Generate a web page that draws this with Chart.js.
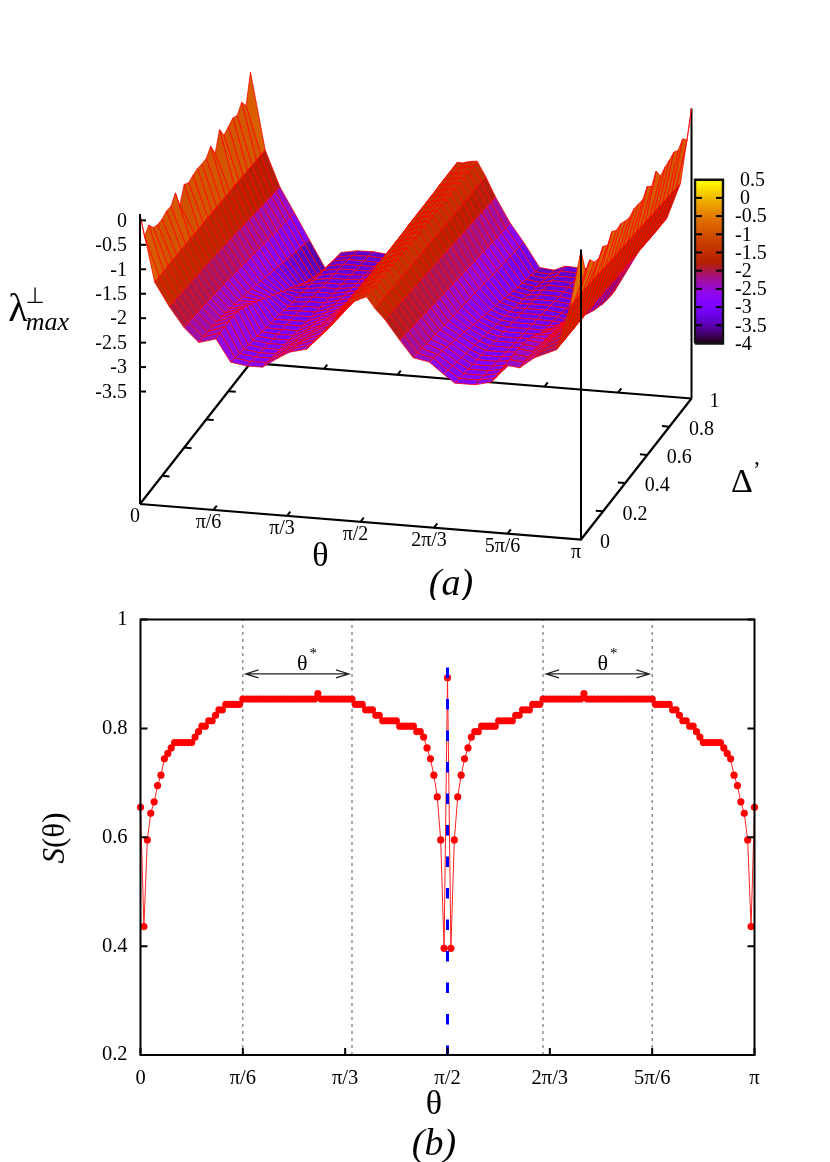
<!DOCTYPE html>
<html>
<head>
<meta charset="utf-8">
<script src="https://cdn.jsdelivr.net/npm/chart.js@4"></script>
<style>
  html, body { margin: 0; padding: 0; background: #fff; }
  canvas { position: absolute; left: 0; display: block; }
  #surface { top: 0; }
  #order { top: 600px; }
</style>
</head>
<body>
<canvas id="surface" width="830" height="600"></canvas>
<canvas id="order" width="830" height="562"></canvas>
<script>
// Panel (a): lambda by theta column (degrees) and delta row
const thetaNodes = [0, 6, 12, 18, 24, 31, 37, 43.5, 50, 56, 61, 68, 75.5, 80, 82, 84.5, 86.5, 88.5, 90.5, 92.5,
  96, 100, 106, 111.5, 118, 124, 128.5, 136.8, 143.3, 149, 155, 161, 170, 175.5, 180];
const deltaNodes = [0, 0.04, 0.08, 0.12, 0.16, 0.2, 0.24, 0.28, 0.32, 0.36, 0.4, 0.44, 0.48,
  0.52, 0.56, 0.6, 0.64, 0.68, 0.72, 0.76, 0.8, 0.84, 0.88, 0.92, 0.96, 1];
const lambdaColumns = [
  [0.12,-0.44,-0.33,-0.49,-0.55,-0.55,-0.5,-0.52,-0.36,-0.73,-0.42,-0.5,-0.46,-0.44,-0.46,-0.46,-0.33,-0.59,-0.22,-0.45,-0.39,-0.33,-0.39,-0.24,-0.42,0.15],
  [-1.24,-1.25,-1.25,-1.26,-1.26,-1.27,-1.27,-1.28,-1.28,-1.29,-1.3,-1.3,-1.31,-1.32,-1.32,-1.33,-1.34,-1.35,-1.35,-1.36,-1.37,-1.38,-1.39,-1.4,-1.41,-1.42],
  [-1.72,-1.73,-1.74,-1.75,-1.76,-1.78,-1.79,-1.81,-1.82,-1.84,-1.86,-1.87,-1.89,-1.91,-1.93,-1.95,-1.97,-1.99,-2.01,-2.03,-2.05,-2.07,-2.09,-2.11,-2.13,-2.15],
  [-2.12,-2.13,-2.14,-2.16,-2.17,-2.19,-2.21,-2.23,-2.25,-2.27,-2.29,-2.32,-2.34,-2.36,-2.39,-2.41,-2.44,-2.46,-2.49,-2.51,-2.53,-2.56,-2.58,-2.6,-2.63,-2.66],
  [-2.4,-2.4,-2.41,-2.42,-2.44,-2.46,-2.49,-2.52,-2.55,-2.58,-2.62,-2.65,-2.69,-2.72,-2.76,-2.8,-2.84,-2.88,-2.92,-2.96,-3,-3.04,-3.08,-3.11,-3.15,-3.18],
  [-2.3,-2.29,-2.28,-2.28,-2.29,-2.31,-2.36,-2.43,-2.5,-2.58,-2.66,-2.74,-2.82,-2.9,-2.98,-3.06,-3.14,-3.22,-3.3,-3.38,-3.46,-3.53,-3.6,-3.66,-3.72,-3.78],
  [-2.75,-2.78,-2.8,-2.83,-2.86,-2.88,-2.91,-2.94,-2.97,-3,-3.03,-3.05,-3.08,-3.11,-3.14,-3.16,-3.18,-3.21,-3.23,-3.26,-3.28,-3.3,-3.32,-3.34,-3.37,-3.39],
  [-2.8,-2.83,-2.85,-2.88,-2.9,-2.92,-2.94,-2.96,-2.98,-3,-3.02,-3.04,-3.06,-3.08,-3.1,-3.12,-3.14,-3.16,-3.18,-3.2,-3.22,-3.24,-3.26,-3.28,-3.31,-3.33],
  [-2.8,-2.82,-2.85,-2.87,-2.9,-2.92,-2.94,-2.96,-2.98,-3,-3.02,-3.04,-3.06,-3.08,-3.1,-3.12,-3.14,-3.16,-3.18,-3.2,-3.22,-3.24,-3.26,-3.28,-3.3,-3.32],
  [-2.6,-2.63,-2.66,-2.69,-2.72,-2.75,-2.78,-2.81,-2.84,-2.87,-2.9,-2.93,-2.96,-2.99,-3.02,-3.05,-3.08,-3.11,-3.14,-3.17,-3.2,-3.23,-3.26,-3.29,-3.32,-3.35],
  [-2.45,-2.49,-2.52,-2.56,-2.6,-2.63,-2.67,-2.71,-2.74,-2.78,-2.82,-2.85,-2.89,-2.93,-2.96,-3,-3.04,-3.07,-3.11,-3.15,-3.18,-3.22,-3.26,-3.3,-3.33,-3.37],
  [-2.36,-2.38,-2.4,-2.42,-2.44,-2.46,-2.48,-2.5,-2.52,-2.54,-2.56,-2.58,-2.6,-2.62,-2.64,-2.66,-2.68,-2.7,-2.72,-2.74,-2.76,-2.78,-2.81,-2.83,-2.85,-2.88],
  [-1.98,-2,-2.02,-2.04,-2.06,-2.08,-2.1,-2.12,-2.14,-2.16,-2.18,-2.2,-2.22,-2.24,-2.26,-2.28,-2.3,-2.33,-2.35,-2.37,-2.39,-2.41,-2.43,-2.45,-2.48,-2.51],
  [-1.65,-1.66,-1.67,-1.69,-1.7,-1.72,-1.73,-1.74,-1.76,-1.77,-1.79,-1.8,-1.81,-1.83,-1.84,-1.86,-1.87,-1.89,-1.9,-1.91,-1.93,-1.94,-1.96,-1.97,-1.99,-2],
  [-1.5,-1.5,-1.51,-1.51,-1.52,-1.52,-1.53,-1.54,-1.54,-1.55,-1.55,-1.56,-1.57,-1.57,-1.58,-1.58,-1.59,-1.6,-1.6,-1.61,-1.61,-1.62,-1.63,-1.63,-1.64,-1.65],
  [-1.38,-1.38,-1.38,-1.38,-1.38,-1.38,-1.38,-1.37,-1.37,-1.37,-1.37,-1.37,-1.37,-1.37,-1.36,-1.36,-1.36,-1.36,-1.36,-1.36,-1.36,-1.35,-1.35,-1.35,-1.35,-1.35],
  [-1.33,-1.33,-1.33,-1.33,-1.33,-1.33,-1.34,-1.34,-1.34,-1.34,-1.34,-1.34,-1.34,-1.35,-1.35,-1.35,-1.35,-1.35,-1.35,-1.35,-1.35,-1.35,-1.35,-1.36,-1.36,-1.36],
  [-1.28,-1.28,-1.29,-1.29,-1.29,-1.29,-1.3,-1.3,-1.3,-1.3,-1.3,-1.31,-1.31,-1.31,-1.31,-1.31,-1.32,-1.32,-1.32,-1.32,-1.32,-1.32,-1.33,-1.33,-1.33,-1.33],
  [-1.23,-1.23,-1.24,-1.24,-1.25,-1.25,-1.25,-1.26,-1.26,-1.26,-1.27,-1.27,-1.27,-1.28,-1.28,-1.28,-1.29,-1.29,-1.29,-1.3,-1.3,-1.3,-1.3,-1.31,-1.31,-1.31],
  [-1.19,-1.2,-1.2,-1.21,-1.21,-1.22,-1.22,-1.23,-1.23,-1.24,-1.24,-1.25,-1.25,-1.25,-1.26,-1.26,-1.27,-1.27,-1.27,-1.28,-1.28,-1.28,-1.29,-1.29,-1.3,-1.3],
  [-1.42,-1.43,-1.43,-1.44,-1.45,-1.46,-1.46,-1.47,-1.48,-1.48,-1.49,-1.5,-1.51,-1.51,-1.52,-1.53,-1.53,-1.54,-1.55,-1.56,-1.56,-1.57,-1.58,-1.58,-1.59,-1.6],
  [-1.63,-1.64,-1.66,-1.67,-1.69,-1.7,-1.72,-1.73,-1.75,-1.76,-1.78,-1.79,-1.81,-1.82,-1.84,-1.85,-1.87,-1.88,-1.9,-1.91,-1.93,-1.94,-1.96,-1.97,-1.99,-2],
  [-2.02,-2.04,-2.06,-2.08,-2.1,-2.12,-2.14,-2.16,-2.18,-2.2,-2.22,-2.24,-2.26,-2.28,-2.3,-2.32,-2.34,-2.36,-2.38,-2.4,-2.42,-2.44,-2.46,-2.48,-2.5,-2.51],
  [-2.36,-2.38,-2.4,-2.42,-2.44,-2.46,-2.48,-2.5,-2.53,-2.55,-2.57,-2.59,-2.61,-2.63,-2.65,-2.67,-2.69,-2.71,-2.74,-2.76,-2.78,-2.8,-2.82,-2.84,-2.86,-2.88],
  [-2.42,-2.46,-2.5,-2.54,-2.58,-2.62,-2.66,-2.69,-2.73,-2.77,-2.81,-2.85,-2.89,-2.93,-2.97,-3,-3.04,-3.08,-3.12,-3.16,-3.2,-3.23,-3.27,-3.3,-3.34,-3.37],
  [-2.65,-2.68,-2.71,-2.74,-2.77,-2.8,-2.83,-2.86,-2.89,-2.92,-2.95,-2.98,-3.01,-3.04,-3.07,-3.1,-3.13,-3.16,-3.19,-3.22,-3.25,-3.28,-3.31,-3.34,-3.37,-3.4],
  [-2.81,-2.83,-2.85,-2.87,-2.89,-2.91,-2.93,-2.95,-2.97,-2.99,-3.01,-3.03,-3.05,-3.07,-3.09,-3.11,-3.13,-3.15,-3.17,-3.19,-3.21,-3.23,-3.25,-3.27,-3.29,-3.3],
  [-2.81,-2.83,-2.85,-2.87,-2.89,-2.91,-2.93,-2.95,-2.97,-2.99,-3.01,-3.03,-3.05,-3.07,-3.09,-3.11,-3.13,-3.15,-3.18,-3.2,-3.22,-3.24,-3.26,-3.28,-3.3,-3.32],
  [-2.73,-2.76,-2.78,-2.81,-2.84,-2.86,-2.89,-2.92,-2.94,-2.97,-3,-3.02,-3.05,-3.08,-3.1,-3.13,-3.16,-3.18,-3.21,-3.24,-3.26,-3.29,-3.32,-3.34,-3.37,-3.39],
  [-2.36,-2.36,-2.36,-2.37,-2.39,-2.42,-2.48,-2.55,-2.63,-2.71,-2.79,-2.87,-2.95,-3.03,-3.11,-3.19,-3.27,-3.34,-3.41,-3.48,-3.55,-3.6,-3.65,-3.68,-3.7,-3.7],
  [-2.39,-2.39,-2.4,-2.41,-2.43,-2.46,-2.49,-2.52,-2.55,-2.59,-2.62,-2.66,-2.7,-2.73,-2.77,-2.81,-2.85,-2.89,-2.93,-2.97,-3.01,-3.05,-3.08,-3.12,-3.15,-3.18],
  [-2.16,-2.17,-2.18,-2.19,-2.21,-2.23,-2.25,-2.27,-2.29,-2.31,-2.33,-2.35,-2.37,-2.39,-2.41,-2.44,-2.46,-2.48,-2.51,-2.53,-2.55,-2.57,-2.59,-2.61,-2.64,-2.66],
  [-1.96,-1.96,-1.97,-1.97,-1.98,-1.98,-1.99,-1.99,-2,-2,-2.01,-2.02,-2.03,-2.04,-2.05,-2.06,-2.07,-2.08,-2.09,-2.1,-2.11,-2.12,-2.13,-2.14,-2.14,-2.15],
  [-1.05,-1.06,-1.07,-1.08,-1.1,-1.11,-1.12,-1.14,-1.15,-1.17,-1.18,-1.2,-1.21,-1.23,-1.24,-1.26,-1.27,-1.29,-1.3,-1.32,-1.33,-1.35,-1.37,-1.38,-1.4,-1.42],
  [0.11,-0.42,-0.31,-0.47,-0.52,-0.38,-0.48,-0.31,-0.4,-0.38,-0.44,-0.48,-0.42,-0.44,-0.46,-0.31,-0.42,-0.23,-0.44,-0.38,-0.35,-0.3,-0.38,-0.26,-0.4,0.13]
];
const zTicks = [0, -0.5, -1, -1.5, -2, -2.5, -3, -3.5];
const thetaTicks3d = [0, 30, 60, 90, 120, 150, 180];
const deltaTicks = [0, 0.2, 0.4, 0.6, 0.8, 1];
const colorbarTicks = [0.5, 0, -0.5, -1, -1.5, -2, -2.5, -3, -3.5, -4];

// Panel (b): S(theta), one point per degree
const orderTheta = [...Array(181).keys()];
const orderValues = [
  0.655,0.436,0.595,0.644,0.665,0.695,0.714,0.744,0.754,0.764,
  0.774,0.774,0.774,0.774,0.774,0.774,0.784,0.794,0.804,0.804,
  0.814,0.814,0.824,0.834,0.834,0.844,0.844,0.844,0.844,0.844,
  0.854,0.854,0.854,0.854,0.854,0.854,0.854,0.854,0.854,0.854,
  0.854,0.854,0.854,0.854,0.854,0.854,0.854,0.854,0.854,0.854,
  0.854,0.854,0.864,0.854,0.854,0.854,0.854,0.854,0.854,0.854,
  0.854,0.854,0.854,0.844,0.844,0.844,0.834,0.834,0.834,0.824,
  0.824,0.814,0.814,0.814,0.814,0.814,0.804,0.804,0.804,0.804,
  0.804,0.794,0.794,0.784,0.764,0.744,0.714,0.674,0.595,0.396,
  0.893,
  0.396,0.595,0.674,0.714,0.744,0.764,0.784,0.794,0.794,0.804,
  0.804,0.804,0.804,0.804,0.814,0.814,0.814,0.814,0.814,0.824,
  0.824,0.834,0.834,0.834,0.844,0.844,0.844,0.854,0.854,0.854,
  0.854,0.854,0.854,0.854,0.854,0.854,0.854,0.854,0.854,0.864,
  0.854,0.854,0.854,0.854,0.854,0.854,0.854,0.854,0.854,0.854,
  0.854,0.854,0.854,0.854,0.854,0.854,0.854,0.854,0.854,0.854,
  0.844,0.844,0.844,0.844,0.844,0.834,0.834,0.824,0.814,0.814,
  0.804,0.804,0.794,0.784,0.774,0.774,0.774,0.774,0.774,0.774,
  0.764,0.754,0.744,0.714,0.695,0.665,0.644,0.595,0.436,0.655
];
const orderTicks = ['0', 'π/6', 'π/3', 'π/2', '2π/3', '5π/6', 'π'];
const guideTheta = [30, 62, 118, 150];
const arrowSpans = [[30.8, 61.1], [118.9, 149.2]];
const arrowLevel = 0.9;
const blueTheta = 90;
const blueRange = [0.912, 0.2];

const serif = '"Liberation Serif", serif';

// gnuplot rgbformulae 7,5,15 over the colorbar range
function palette(v) {
  const g = Math.min(1, Math.max(0, (v + 4) / 4.5));
  const r = Math.sqrt(g), gr = g * g * g, b = Math.max(0, Math.sin(2 * Math.PI * g));
  return `rgb(${Math.round(r * 255)},${Math.round(gr * 255)},${Math.round(b * 255)})`;
}

// oblique view of the box, result is in the chart's x/y scale units
function project(theta, delta, lambda) {
  const t = theta / 180;
  return {
    x: 140 + 441 * t + 110.5 * delta,
    y: 504 + 35.5 * t - 141 * delta - 48.9 * (lambda + 5.8)
  };
}
const floorLevel = -5.8, ceilingLevel = 0.13;

function polyline(points, color, width, extra) {
  return Object.assign({
    type: 'scatter', showLine: true, data: points, borderColor: color, borderWidth: width,
    pointRadius: 0, tension: 0, clip: false, fill: false
  }, extra || {});
}

const paint = [];

// back of the box goes under the surface
paint.push(polyline([project(0, 0, floorLevel), project(0, 1, floorLevel), project(180, 1, floorLevel)], '#000', 2.2));
thetaTicks3d.slice(1, -1).forEach(th => {
  paint.push(polyline([project(th, 1, floorLevel), project(th, 1.03, floorLevel)], '#000', 2));
});
deltaTicks.slice(1, -1).forEach(d => {
  paint.push(polyline([project(0, d, floorLevel), project(3, d, floorLevel)], '#000', 2));
});
paint.push(polyline([project(0, 0, floorLevel), project(180, 0, floorLevel), project(180, 1, floorLevel)], '#000', 2.2));
thetaTicks3d.slice(1, -1).forEach(th => {
  paint.push(polyline([project(th, 0, floorLevel), project(th, 0.03, floorLevel)], '#000', 2));
});
deltaTicks.slice(1, -1).forEach(d => {
  paint.push(polyline([project(180, d, floorLevel), project(177, d, floorLevel)], '#000', 2));
});
paint.push(polyline([project(180, 1, floorLevel), project(180, 1, ceilingLevel)], '#000', 2));

// surface cells, far to near
for (let k = 0; k < thetaNodes.length - 1; k++) {
  for (let i = deltaNodes.length - 2; i >= 0; i--) {
    const a = lambdaColumns[k][i], b = lambdaColumns[k + 1][i];
    const c = lambdaColumns[k + 1][i + 1], e = lambdaColumns[k][i + 1];
    const pts = [
      project(thetaNodes[k], deltaNodes[i], a),
      project(thetaNodes[k + 1], deltaNodes[i], b),
      project(thetaNodes[k + 1], deltaNodes[i + 1], c),
      project(thetaNodes[k], deltaNodes[i + 1], e),
      project(thetaNodes[k], deltaNodes[i], a)
    ];
    paint.push(polyline(pts, '#ff0000', 0.75, { backgroundColor: palette((a + b + c + e) / 4), cell: true }));
  }
}

// verticals in front of the surface
paint.push(polyline([project(0, 0, floorLevel), project(0, 0, ceilingLevel)], '#000', 2));
paint.push(polyline([project(180, 0, floorLevel), project(180, 0, ceilingLevel)], '#000', 2));
zTicks.forEach(v => {
  const p = project(0, 0, v);
  paint.push(polyline([p, { x: p.x + 6, y: p.y }], '#000', 2));
});

// colorbar
const cbLeft = 695, cbRight = 723, cbBottom = 343.5, cbScale = 36.4;
const cbY = v => cbBottom - (v + 4) * cbScale;
const cbLevels = [...Array(90).keys()].map(n => -4 + n * 0.05);
cbLevels.forEach(v => {
  const low = Math.min(cbBottom, cbY(v) + 1.5);
  paint.push(polyline([
    { x: cbLeft, y: low }, { x: cbRight, y: low },
    { x: cbRight, y: cbY(v + 0.05) }, { x: cbLeft, y: cbY(v + 0.05) }, { x: cbLeft, y: low }
  ], 'rgba(0,0,0,0)', 0, { backgroundColor: palette(v + 0.025), cell: true }));
});
colorbarTicks.slice(1, -1).forEach(v => {
  paint.push(polyline([{ x: cbLeft, y: cbY(v) }, { x: cbLeft + 7, y: cbY(v) }], '#000', 2));
  paint.push(polyline([{ x: cbRight - 7, y: cbY(v) }, { x: cbRight, y: cbY(v) }], '#000', 2));
});
paint.push(polyline([
  { x: cbLeft, y: cbY(-4) }, { x: cbRight, y: cbY(-4) }, { x: cbRight, y: cbY(0.5) },
  { x: cbLeft, y: cbY(0.5) }, { x: cbLeft, y: cbY(-4) }
], '#111', 2.4));

// Fill closed cells right before their outline goes on
const cellFill = {
  id: 'cellFill',
  beforeDatasetDraw(chart, args) {
    const ds = chart.data.datasets[args.index];
    if (!ds.cell) return;
    const ctx = chart.ctx;
    ctx.save();
    ctx.beginPath();
    args.meta.data.forEach((pt, n) => n ? ctx.lineTo(pt.x, pt.y) : ctx.moveTo(pt.x, pt.y));
    ctx.closePath();
    ctx.fillStyle = ds.backgroundColor;
    ctx.fill();
    ctx.restore();
  }
};

function put(ctx, text, x, y, font, align) {
  ctx.font = font;
  ctx.textAlign = align || 'center';
  ctx.textBaseline = 'middle';
  ctx.fillStyle = '#000';
  ctx.fillText(text, x, y);
}

const surfaceLabels = {
  id: 'surfaceLabels',
  afterDraw(chart) {
    const ctx = chart.ctx, sx = chart.scales.x, sy = chart.scales.y;
    const tickFont = '20px ' + serif;
    ctx.save();
    zTicks.forEach(v => {
      const p = project(0, 0, v);
      put(ctx, String(v), sx.getPixelForValue(p.x) - 13, sy.getPixelForValue(p.y) + 1, tickFont, 'right');
    });
    orderTicks.forEach((txt, n) => {
      const p = project(thetaTicks3d[n], 0, floorLevel);
      put(ctx, txt, sx.getPixelForValue(p.x) - 5, sy.getPixelForValue(p.y) + 13, tickFont);
    });
    deltaTicks.forEach(d => {
      const p = project(180, d, floorLevel);
      const gap = d === 0 ? 24 : d === 1 ? 23 : 32;
      put(ctx, String(d), sx.getPixelForValue(p.x) + gap, sy.getPixelForValue(p.y) + 3, tickFont);
    });
    colorbarTicks.forEach(v => {
      put(ctx, String(v), v < 0 ? 735 : 740, sy.getPixelForValue(cbY(v)) + 1, tickFont, 'left');
    });
    put(ctx, 'λ', 18, 310, '40px ' + serif);
    put(ctx, '⊥', 35, 297, '22px "DejaVu Sans", sans-serif');
    put(ctx, 'max', 47.5, 323, 'italic 26px ' + serif);
    put(ctx, 'θ', 320.5, 557, '34px ' + serif);
    put(ctx, 'Δ', 742, 483, '34px ' + serif);
    put(ctx, ',', 757, 458, '24px ' + serif);
    put(ctx, '(a)', 451, 585, 'italic 38px ' + serif);
    ctx.restore();
  }
};

new Chart(document.getElementById('surface'), {
  type: 'scatter',
  data: { datasets: paint.slice().reverse() },
  options: {
    responsive: false,
    animation: false,
    events: [],
    layout: { padding: 0 },
    plugins: { legend: { display: false }, tooltip: { enabled: false } },
    scales: {
      x: { type: 'linear', min: 0, max: 830, display: false },
      y: { type: 'linear', min: 0, max: 600, reverse: true, display: false }
    }
  },
  plugins: [cellFill, surfaceLabels]
});

// Frame, inward ticks and the theta* arrows of panel (b)
const orderDecor = {
  id: 'orderDecor',
  afterDatasetsDraw(chart) {
    const ctx = chart.ctx, sx = chart.scales.x, sy = chart.scales.y, area = chart.chartArea;
    ctx.save();
    ctx.strokeStyle = '#000';
    ctx.lineWidth = 2;
    ctx.strokeRect(area.left, area.top, area.right - area.left, area.bottom - area.top);
    ctx.beginPath();
    sx.ticks.forEach(t => {
      const x = sx.getPixelForValue(t.value);
      ctx.moveTo(x, area.bottom);
      ctx.lineTo(x, area.bottom - 7);
    });
    sy.ticks.forEach(t => {
      const y = sy.getPixelForValue(t.value);
      ctx.moveTo(area.left, y);
      ctx.lineTo(area.left + 7, y);
      ctx.moveTo(area.right, y);
      ctx.lineTo(area.right - 7, y);
    });
    ctx.stroke();

    ctx.strokeStyle = '#222';
    ctx.lineWidth = 1.2;
    const y = sy.getPixelForValue(arrowLevel);
    arrowSpans.forEach(span => {
      const x0 = sx.getPixelForValue(span[0]), x1 = sx.getPixelForValue(span[1]);
      ctx.beginPath();
      ctx.moveTo(x0 + 13, y - 4); ctx.lineTo(x0, y); ctx.lineTo(x0 + 13, y + 4);
      ctx.moveTo(x1 - 13, y - 4); ctx.lineTo(x1, y); ctx.lineTo(x1 - 13, y + 4);
      ctx.moveTo(x0, y); ctx.lineTo(x1, y);
      ctx.stroke();
      const mid = (x0 + x1) / 2;
      put(ctx, 'θ', mid + 5, y - 10, '22px ' + serif);
      put(ctx, '*', mid + 16, y - 20, '15px ' + serif);
    });

    put(ctx, 'θ', 434, 505, '34px ' + serif);
    put(ctx, '(b)', 434, 545, 'italic 38px ' + serif);
    ctx.translate(56, 238);
    ctx.rotate(-Math.PI / 2);
    ctx.font = 'italic 31px ' + serif;
    const sWidth = ctx.measureText('S').width;
    ctx.font = '31px ' + serif;
    const restWidth = ctx.measureText('(θ)').width;
    const startX = -(sWidth + restWidth) / 2;
    put(ctx, 'S', startX, 0, 'italic 31px ' + serif, 'left');
    put(ctx, '(θ)', startX + sWidth, 0, '31px ' + serif, 'left');
    ctx.restore();
  }
};

const tickFontB = { family: '"Liberation Serif"', size: 20.5 };

new Chart(document.getElementById('order'), {
  type: 'scatter',
  data: {
    datasets: [
      {
        label: 'pi/2', showLine: true, clip: false, pointRadius: 0,
        data: blueRange.map(v => ({ x: blueTheta, y: v })),
        borderColor: '#0000ff', borderWidth: 3, borderDash: [10.7, 20.8]
      },
      {
        label: 'S', showLine: true, clip: false,
        data: orderTheta.map((th, n) => ({ x: th, y: orderValues[n] })),
        borderColor: '#ff2020', borderWidth: 1, backgroundColor: '#ff0000',
        pointBackgroundColor: '#ff0000', pointBorderWidth: 0, pointRadius: 3.6, tension: 0
      }
    ].concat(guideTheta.map(th => ({
      label: 'guide', showLine: true, pointRadius: 0,
      data: [{ x: th, y: 0.2 }, { x: th, y: 1 }],
      borderColor: '#555', borderWidth: 1, borderDash: [3, 4]
    })))
  },
  options: {
    responsive: false,
    animation: false,
    events: [],
    layout: { padding: { top: 19.5, right: 75.5, left: 0, bottom: 0 } },
    plugins: { legend: { display: false }, tooltip: { enabled: false } },
    scales: {
      x: {
        type: 'linear', min: 0, max: 180,
        grid: { display: false, drawTicks: false },
        border: { display: false },
        afterFit(scale) { scale.height = 107; },
        ticks: {
          stepSize: 30, maxRotation: 0, autoSkip: false, padding: 11, color: '#000', font: tickFontB,
          callback: v => orderTicks[v / 30]
        }
      },
      y: {
        type: 'linear', min: 0.2, max: 1,
        grid: { display: false, drawTicks: false },
        border: { display: false },
        afterFit(scale) {
          scale.width = 140.5;
          // the tick labels' own margin would push the frame down
          scale.paddingTop = 0;
          scale.paddingBottom = 0;
        },
        ticks: {
          stepSize: 0.2, padding: 13, color: '#000', font: tickFontB,
          callback: v => String(Math.round(v * 10) / 10)
        }
      }
    }
  },
  plugins: [orderDecor]
});
</script>
</body>
</html>
